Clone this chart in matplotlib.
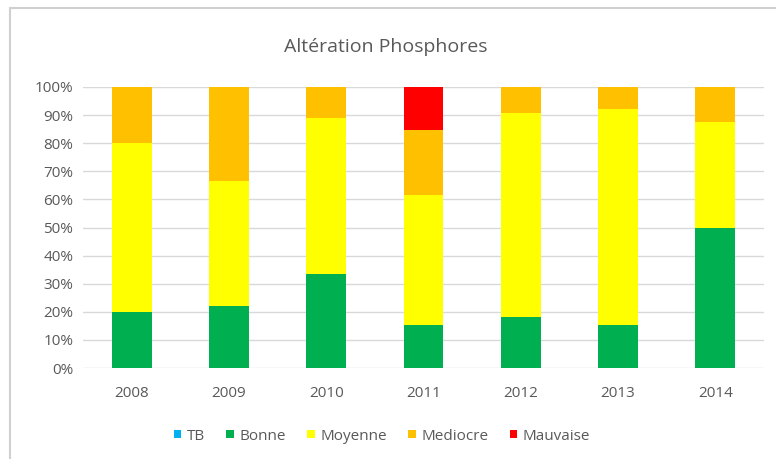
import numpy as np
import matplotlib.pyplot as plt
from matplotlib.patches import Rectangle
from matplotlib.ticker import PercentFormatter

annees = ['2008', '2009', '2010', '2011', '2012', '2013', '2014']
tb = [0, 0, 0, 0, 0, 0, 0]
bonne = [20.0, 22.2, 33.3, 15.4, 18.2, 15.4, 50.0]
moyenne = [60.0, 44.4, 55.6, 46.2, 72.7, 76.9, 37.5]
mediocre = [20.0, 33.3, 11.1, 23.1, 9.1, 7.7, 12.5]
mauvaise = [0, 0, 0, 15.4, 0, 0, 0]

classes = ['TB', 'Bonne', 'Moyenne', 'Mediocre', 'Mauvaise']
couleurs = ['#00B0F0', '#00B050', '#FFFF00', '#FFC000', '#FF0000']

plt.rcParams['font.family'] = ['Open Sans', 'DejaVu Sans']

fig = plt.figure(figsize=(7.76, 4.59), dpi=100)
ax = fig.add_axes([83 / 776, 1 - 368 / 459, 681 / 776, 281 / 459])

# cadre gris autour du graphique
fig.patches.append(Rectangle((10 / 776, -0.05), 1.1, 1 - 8 / 459 + 0.05,
                             transform=fig.transFigure, fill=False,
                             edgecolor='#D0D0D0', linewidth=1.5))

x = np.arange(len(annees))
bas = np.zeros(len(annees))
for nom, vals, c in zip(classes, [tb, bonne, moyenne, mediocre, mauvaise], couleurs):
    ax.bar(x, vals, 0.41, bottom=bas, color=c, label=nom, zorder=3)
    bas += np.array(vals)

ax.set_xlim(-0.5, len(annees) - 0.5)
ax.set_ylim(0, 100)
ax.set_yticks(np.arange(0, 101, 10))
ax.yaxis.set_major_formatter(PercentFormatter(decimals=0))
ax.set_xticks(x)
ax.set_xticklabels(annees)
ax.grid(axis='y', color='#D9D9D9', linewidth=1, zorder=0)
for s in ax.spines.values():
    s.set_visible(False)
ax.tick_params(length=0, colors='#595959', labelsize=11)
ax.tick_params(axis='x', pad=13)
ax.tick_params(axis='y', pad=7)

fig.text(0.497, 1 - 47 / 459, 'Altération Phosphores', ha='center', va='center',
         fontsize=14, color='#595959')

fig.legend(loc='center', bbox_to_anchor=(0.492, 1 - 436 / 459), ncol=5, frameon=False,
           handlelength=0.5, handleheight=0.5, handletextpad=0.35, columnspacing=1.4,
           labelcolor='#595959', fontsize=11)

fig.savefig('out.png')
